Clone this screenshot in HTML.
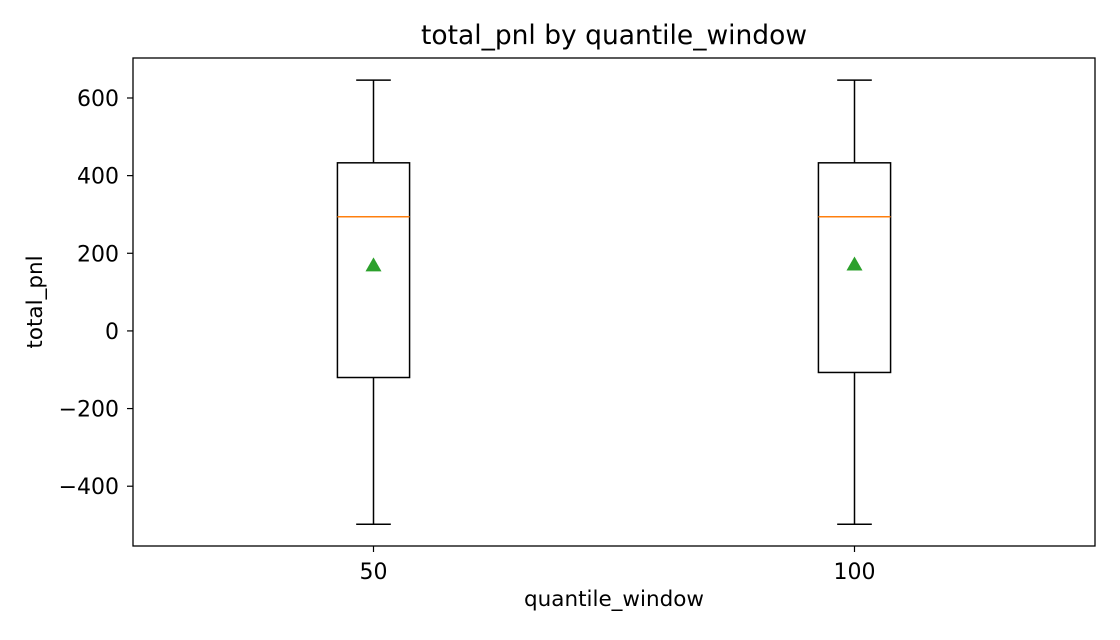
<!DOCTYPE html>
<html><head><meta charset="utf-8"><style>
html,body{margin:0;background:#fff;overflow:hidden;width:1120px;height:640px;}
svg{display:block;}
text{font-family:"DejaVu Sans","Liberation Sans",sans-serif;}
</style></head><body>
<svg id="chart" width="1120" height="640" xmlns="http://www.w3.org/2000/svg"></svg>
<script>
const categories = ["50", "100"];
const whiskerHigh = [646, 646];
const q3Values = [433, 433];
const medianValues = [294, 294];
const q1Values = [-120, -107];
const whiskerLow = [-498, -498];
const meanValues = [169, 171];
const yTicks = [-400, -200, 0, 200, 400, 600];

const L=133,R=1095,T=58,B=546;
const yMin=-554,yMax=703,xMin=0.5,xMax=2.5;
const sx=v=>L+(v-xMin)/(xMax-xMin)*(R-L);
const sy=v=>B-(v-yMin)/(yMax-yMin)*(B-T);
const svg=document.getElementById('chart');
const NS='http://www.w3.org/2000/svg';
function mk(tag,attrs,parent){const e=document.createElementNS(NS,tag);for(const k in attrs)e.setAttribute(k,attrs[k]);(parent||svg).appendChild(e);return e;}

let t=mk('text',{x:614,y:44,'font-size':26.5,'text-anchor':'middle',fill:'#000'});t.textContent='total_pnl by quantile_window';



const bw=0.075, cw=0.036;
categories.forEach((c,i)=>{
  const x=i+1;
  const g=mk('g',{});
  
  
  mk('line',{x1:sx(x),x2:sx(x),y1:sy(q3Values[i]),y2:sy(whiskerHigh[i]),stroke:'#000','stroke-width':1.5},g);
  mk('line',{x1:sx(x),x2:sx(x),y1:sy(q1Values[i]),y2:sy(whiskerLow[i]),stroke:'#000','stroke-width':1.5},g);
  mk('line',{x1:sx(x-cw),x2:sx(x+cw),y1:sy(whiskerHigh[i]),y2:sy(whiskerHigh[i]),stroke:'#000','stroke-width':1.5},g);
  mk('line',{x1:sx(x-cw),x2:sx(x+cw),y1:sy(whiskerLow[i]),y2:sy(whiskerLow[i]),stroke:'#000','stroke-width':1.5},g);
  mk('rect',{x:sx(x-bw),y:sy(q3Values[i]),width:sx(x+bw)-sx(x-bw),height:sy(q1Values[i])-sy(q3Values[i]),fill:'none',stroke:'#000','stroke-width':1.5},g);
  mk('line',{x1:sx(x-bw),x2:sx(x+bw),y1:sy(medianValues[i]),y2:sy(medianValues[i]),stroke:'#ff7f0e','stroke-width':1.5},g);
  const mx=sx(x),my=sy(meanValues[i]);
  const m=mk('polygon',{points:`${mx},${my-8} ${mx-8},${my+6} ${mx+8},${my+6}`,fill:'#2ca02c'},g);
  
  
  mk('line',{x1:sx(x),x2:sx(x),y1:B,y2:B+6,stroke:'#000','stroke-width':1.2});
  const lt=mk('text',{x:sx(x),y:B+33,'font-size':22,'text-anchor':'middle'});lt.textContent=c;
  
  
});
yTicks.forEach(v=>{
  mk('line',{x1:L-6,x2:L,y1:sy(v),y2:sy(v),stroke:'#000','stroke-width':1.2});
  const tt=mk('text',{x:L-14,y:sy(v)+8,'font-size':22,'text-anchor':'end'});tt.textContent=v<0?'\u2212'+(-v):String(v);
  
  
});
const fr=mk('rect',{x:L,y:T,width:R-L,height:B-T,fill:'none',stroke:'#000','stroke-width':1.3});


const xl=mk('text',{x:614,y:606,'font-size':21.5,'text-anchor':'middle'});xl.textContent='quantile_window';


const yl=mk('text',{x:42,y:302,'font-size':21.5,'text-anchor':'middle',transform:'rotate(-90 42 302)'});yl.textContent='total_pnl';


</script>
</body></html>
